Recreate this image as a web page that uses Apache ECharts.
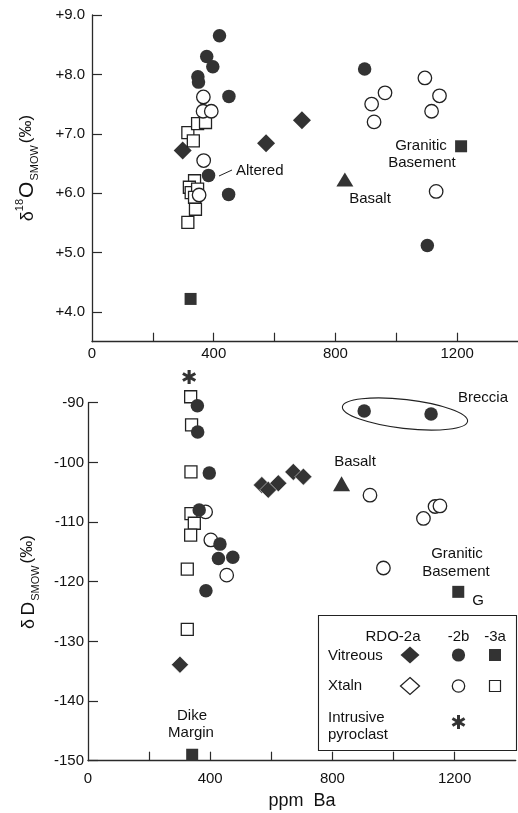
<!DOCTYPE html>
<html>
<head>
<meta charset="utf-8">
<script src="https://cdn.jsdelivr.net/npm/echarts@6/dist/echarts.min.js"></script>
<style>
html,body{margin:0;padding:0;background:#fff;}
#chart{width:518px;height:813px;}
</style>
</head>
<body>
<div id="chart"></div>
<script>
// ---------- DATA (ppm Ba, isotope value) ----------
// Top panel: delta 18O SMOW
const rdo2aVitO = [[298,6.72],[572,6.84],[690,7.23]];
const rdo2bVitO = [[419,8.65],[377,8.30],[397,8.13],[348,7.96],[350,7.87],[450,7.63],[383,6.30],[449,5.98],[896,8.09],[1102,5.12]];
const rdo2bXtlO = [[366,7.62],[365,7.38],[392,7.38],[367,6.55],[352,5.97],[1094,7.94],[963,7.69],[919,7.50],[927,7.20],[1142,7.64],[1116,7.38],[1131,6.03]];
const rdo3aVitO = [[324,4.22],[1213,6.79]];
const rdo3aXtlO = [[315,7.02],[347,7.17],[373,7.19],[333,6.88],[337,6.21],[320,6.10],[326,6.01],[347,6.07],[337,5.93],[340,5.73],[315,5.51]];
const basaltO = [[831,6.23]];

// Bottom panel: delta D SMOW
const rdo2aVitD = [[301,-133.9],[569,-103.8],[590,-104.6],[623,-103.5],[672,-101.6],[705,-102.4]];
const rdo2bVitD = [[358,-90.5],[359,-94.9],[397,-101.8],[364,-108.0],[432,-113.7],[427,-116.1],[474,-115.9],[386,-121.5],[904,-91.4],[1123,-91.9]];
const rdo2bXtlD = [[385,-108.3],[402,-113.0],[454,-118.9],[923,-105.5],[1136,-107.4],[1152,-107.3],[1098,-109.4],[967,-117.7]];
const rdo3aVitD = [[1212,-121.7],[341,-149.0]];
const rdo3aXtlD = [[336,-89.0],[339,-93.7],[337,-101.6],[337,-108.6],[348,-110.2],[336,-112.2],[325,-117.9],[325,-128.0]];
const pyroclastD = [[331,-85.7]];
const basaltD = [[830,-103.6]];

// Axis ticks / labels
const xTickVals = [200,400,600,800,1000,1200];
const xLabelVals = [0,400,800,1200];
const yTickValsO = [4,5,6,7,8,9];
const yTickValsD = [-150,-140,-130,-120,-110,-100,-90];

// ---------- STYLE ----------
const FONT = '"Liberation Sans", Arial, Helvetica, sans-serif';
const INK = '#2a2a2a';
const FILL = '#333333';
const AST = 'path://M-1.3,-6L1.3,-6L1.3,6L-1.3,6Z M4.546,-4.126L5.846,-1.874L-4.546,4.126L-5.846,1.874Z M5.846,1.874L4.546,4.126L-5.846,-1.874L-4.546,-4.126Z';

const chart = echarts.init(document.getElementById('chart'), null, {renderer:'canvas'});

function xAx(gi, margin){
  return {
    type:'value', gridIndex:gi, min:0, max:1400,
    axisLine:{show:true, onZero:false, lineStyle:{color:INK, width:1.3}},
    axisTick:{show:true, inside:true, length:9, customValues:xTickVals, lineStyle:{color:INK, width:1.2}},
    axisLabel:{customValues:xLabelVals, margin:margin, color:'#111', fontSize:15, fontFamily:FONT, formatter: v => String(v)},
    splitLine:{show:false}
  };
}
function yAx(gi, min, max, ticks, fmt, margin){
  return {
    type:'value', gridIndex:gi, min:min, max:max,
    axisLine:{show:true, onZero:false, lineStyle:{color:INK, width:1.3}},
    axisTick:{show:true, inside:true, length:10, customValues:ticks, lineStyle:{color:INK, width:1.2}},
    axisLabel:{customValues:ticks, margin:margin, color:'#111', fontSize:15, fontFamily:FONT, formatter:fmt},
    splitLine:{show:false}
  };
}
function sc(name, gi, data, symbol, size, filled, extra){
  const s = {
    name:name, type:'scatter', xAxisIndex:gi, yAxisIndex:gi, data:data, clip:false,
    symbol:symbol, symbolSize:size,
    itemStyle: filled ? {color:FILL, opacity:1}
                      : {color:'#fff', borderColor:'#222', borderWidth:1.3, opacity:1},
    emphasis:{disabled:true}, silent:true
  };
  return Object.assign(s, extra||{});
}

const option = {
  animation:false,
  backgroundColor:'#fff',
  textStyle:{fontFamily:FONT},
  grid:[
    {left:92, top:15, width:427, height:326.7},
    {left:88, top:402.7, width:427.7, height:358}
  ],
  xAxis:[xAx(0,5), xAx(1,11)],
  yAxis:[
    yAx(0, 3.5, 9.0, yTickValsO, v => '+' + Number(v).toFixed(1), 7),
    yAx(1, -150, -90, yTickValsD, v => String(v), 4)
  ],
  series:[
    sc('RDO-2a Vitreous O',0,rdo2aVitO,'diamond',18,true),
    sc('RDO-3a Xtaln O',0,rdo3aXtlO,'rect',12,false),
    sc('RDO-2b Xtaln O',0,rdo2bXtlO,'circle',13.5,false),
    sc('RDO-2b Vitreous O',0,rdo2bVitO,'circle',13.5,true),
    sc('RDO-3a Vitreous O',0,rdo3aVitO,'rect',12,true),
    sc('Basalt O',0,basaltO,'triangle',[17,14],true),

    sc('RDO-2a Vitreous D',1,rdo2aVitD,'diamond',17,true,{itemStyle:{color:FILL, borderColor:'#ffffff', borderWidth:0.5, opacity:1}}),
    sc('RDO-3a Xtaln D',1,rdo3aXtlD,'rect',12,false),
    sc('RDO-2b Xtaln D',1,rdo2bXtlD,'circle',13.5,false),
    sc('RDO-2b Vitreous D',1,rdo2bVitD,'circle',13.5,true),
    sc('RDO-3a Vitreous D',1,rdo3aVitD,'rect',12,true),
    sc('Basalt D',1,basaltD,'triangle',[17,15],true),
    sc('Intrusive pyroclast D',1,pyroclastD,AST,14,true)
  ],
  graphic:[]
};

function txt(x, y, s, size, align){
  return {type:'text', x:x, y:y, silent:true, z:100,
    style:{text:s, fill:'#111', font:(size||15)+'px '+FONT, align:align||'center', verticalAlign:'middle'}};
}

const G = [];
// axis titles
G.push({type:'text', x:26, y:168, rotation:Math.PI/2, silent:true, z:100,
  style:{text:'{d|δ}{s|18}{o|O}{b|SMOW}{p|(‰)}', align:'center', verticalAlign:'middle', fill:'#111',
    rich:{
      d:{fontSize:18, fontFamily:FONT, fill:'#111', lineHeight:28, verticalAlign:'bottom', padding:[0,0,3,0]},
      s:{fontSize:11, fontFamily:FONT, fill:'#111', lineHeight:28, verticalAlign:'top', padding:[2,1,0,0]},
      o:{fontSize:21, fontFamily:FONT, fill:'#111', lineHeight:28, verticalAlign:'bottom', padding:[0,1,2,0]},
      b:{fontSize:11, fontFamily:FONT, fill:'#111', lineHeight:28, verticalAlign:'bottom', padding:[0,2,0,0]},
      p:{fontSize:17, fontFamily:FONT, fill:'#111', lineHeight:28, verticalAlign:'bottom', padding:[0,0,5,0]}
    }}});
G.push({type:'text', x:27, y:582, rotation:Math.PI/2, silent:true, z:100,
  style:{text:'{d|δ} {o|D}{b|SMOW}{p|(‰)}', align:'center', verticalAlign:'middle', fill:'#111',
    rich:{
      d:{fontSize:18, fontFamily:FONT, fill:'#111', lineHeight:28, verticalAlign:'bottom', padding:[0,0,3,0]},
      o:{fontSize:19, fontFamily:FONT, fill:'#111', lineHeight:28, verticalAlign:'bottom', padding:[0,1,3,0]},
      b:{fontSize:11, fontFamily:FONT, fill:'#111', lineHeight:28, verticalAlign:'bottom', padding:[0,2,0,0]},
      p:{fontSize:17, fontFamily:FONT, fill:'#111', lineHeight:28, verticalAlign:'bottom', padding:[0,0,5,0]}
    }}});
G.push(txt(302, 801, 'ppm  Ba', 18));

// top annotations
G.push(txt(236, 171, 'Altered', 15, 'left'));
G.push({type:'line', silent:true, z:100, shape:{x1:219, y1:176, x2:232, y2:170}, style:{stroke:'#222', lineWidth:1}});
G.push(txt(421, 146, 'Granitic', 15));
G.push(txt(422, 163, 'Basement', 15));
G.push(txt(370, 199, 'Basalt', 15));

// bottom annotations
G.push(txt(483, 398, 'Breccia', 15));
G.push({type:'ellipse', silent:true, z:90, x:405, y:414, rotation:-0.115,
  shape:{cx:0, cy:0, rx:63, ry:14.5}, style:{fill:'none', stroke:'#222', lineWidth:1.1}});
G.push(txt(355, 462, 'Basalt', 15));
G.push(txt(457, 554, 'Granitic', 15));
G.push(txt(456, 572, 'Basement', 15));
G.push(txt(478, 601, 'G', 15));
G.push(txt(192, 716, 'Dike', 15));
G.push(txt(191, 733, 'Margin', 15));

// legend box
G.push({type:'rect', silent:true, z:95, shape:{x:318.5, y:615.5, width:198, height:135}, style:{fill:'#fff', stroke:'#222', lineWidth:1.1}});
G.push(txt(393, 637, 'RDO-2a', 15));
G.push(txt(458.5, 637, '-2b', 15));
G.push(txt(495, 637, '-3a', 15));
G.push(txt(328, 656, 'Vitreous', 15, 'left'));
G.push(txt(328, 686, 'Xtaln', 15, 'left'));
G.push(txt(328, 718, 'Intrusive', 15, 'left'));
G.push(txt(328, 735, 'pyroclast', 15, 'left'));
function diamond(cx, cy, filled){
  return {type:'polygon', silent:true, z:100, shape:{points:[[cx,cy-8.5],[cx+9.5,cy],[cx,cy+8.5],[cx-9.5,cy]]},
    style: filled ? {fill:FILL} : {fill:'#fff', stroke:'#222', lineWidth:1.3}};
}
G.push(diamond(410,655,true));
G.push({type:'circle', silent:true, z:100, shape:{cx:458.5, cy:655, r:6.6}, style:{fill:FILL}});
G.push({type:'rect', silent:true, z:100, shape:{x:489, y:649, width:12, height:12}, style:{fill:FILL}});
G.push(diamond(410,686,false));
G.push({type:'circle', silent:true, z:100, shape:{cx:458.5, cy:686, r:6.2}, style:{fill:'#fff', stroke:'#222', lineWidth:1.3}});
G.push({type:'rect', silent:true, z:100, shape:{x:489.5, y:680.5, width:11, height:11}, style:{fill:'#fff', stroke:'#222', lineWidth:1.2}});
[0, Math.PI/3, -Math.PI/3].forEach(function(r){
  G.push({type:'rect', silent:true, z:100, x:458.5, y:722, rotation:r,
    shape:{x:-1.5, y:-7, width:3, height:14}, style:{fill:FILL}});
});

option.graphic = G;
chart.setOption(option);
</script>
</body>
</html>
